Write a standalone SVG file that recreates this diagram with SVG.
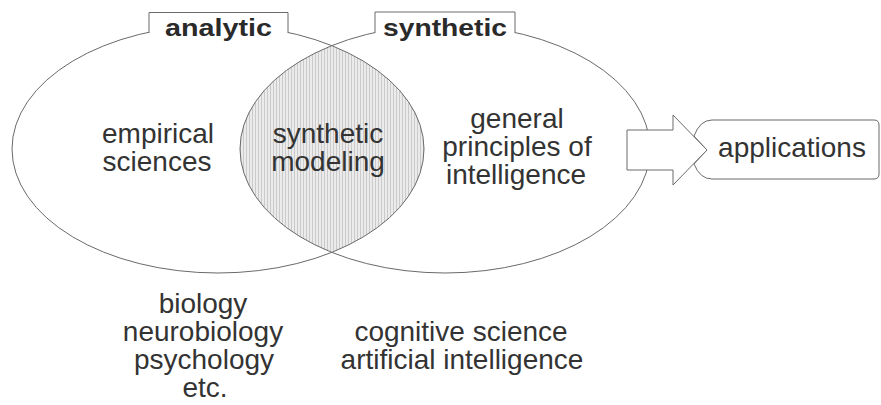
<svg xmlns="http://www.w3.org/2000/svg" width="881" height="405" viewBox="0 0 881 405">
  <style>
    .ln { fill: none; stroke: #6a6a6a; stroke-width: 1; }
    .wf { fill: #ffffff; stroke: #6a6a6a; stroke-width: 1; }
    .t { font-family: "Liberation Sans", Arial, sans-serif; font-size: 28px; fill: #333333; text-anchor: middle; }
    .b { font-family: "Liberation Sans", Arial, sans-serif; font-size: 24px; font-weight: bold; fill: #2a2a2a; }
  </style>
  <defs>
    <pattern id="hatch" patternUnits="userSpaceOnUse" width="3" height="10">
      <rect x="0" y="0" width="3" height="10" fill="#ebebeb"/>
      <line x1="0.5" y1="0" x2="0.5" y2="10" stroke="#cacaca" stroke-width="1"/>
    </pattern>
    <clipPath id="leftClip">
      <ellipse cx="218" cy="149" rx="206" ry="124"/>
    </clipPath>
  </defs>
  <rect x="0" y="0" width="881" height="405" fill="#ffffff"/>

  <g id="lens">
    <ellipse cx="445" cy="149" rx="205" ry="124" fill="url(#hatch)" clip-path="url(#leftClip)"/>
  </g>

  <g id="analytic-set">
    <ellipse class="ln" cx="218" cy="149" rx="206" ry="124"/>
    <path class="wf" d="M149,33 V12.5 H288 V33"/>
    <text class="b" x="165" y="36" textLength="107" lengthAdjust="spacingAndGlyphs">analytic</text>
  </g>

  <g id="synthetic-set">
    <ellipse class="ln" cx="445" cy="149" rx="205" ry="124"/>
    <path class="wf" d="M375,33 V12 H515 V33"/>
    <text class="b" x="383" y="36" textLength="124" lengthAdjust="spacingAndGlyphs">synthetic</text>
  </g>

  <g id="connectors">
    <path class="wf" d="M627,130 H673 V115 L707,150 L673,185 V170 H627 Z"/>
  </g>

  <g id="applications">
    <path class="wf" d="M874,120 H712 Q700,120 694,136 L707,150 L694,164 Q700,179 712,179 H874 Q879,179 879,174 V125 Q879,120 874,120 Z"/>
    <text class="t" x="792" y="157">applications</text>
  </g>

  <g id="empirical-sciences">
    <text class="t" x="158" y="143">empirical</text>
    <text class="t" x="157" y="171">sciences</text>
  </g>

  <g id="synthetic-modeling">
    <text class="t" x="328" y="143">synthetic</text>
    <text class="t" x="328" y="171">modeling</text>
  </g>

  <g id="general-principles">
    <text class="t" x="517" y="128">general</text>
    <text class="t" x="517" y="156">principles of</text>
    <text class="t" x="516" y="184">intelligence</text>
  </g>

  <g id="analytic-examples">
    <text class="t" x="203" y="313">biology</text>
    <text class="t" x="203" y="341">neurobiology</text>
    <text class="t" x="204" y="369">psychology</text>
    <text class="t" x="205" y="397">etc.</text>
  </g>

  <g id="synthetic-examples">
    <text class="t" x="461" y="341">cognitive science</text>
    <text class="t" x="462" y="369">artificial intelligence</text>
  </g>
</svg>
